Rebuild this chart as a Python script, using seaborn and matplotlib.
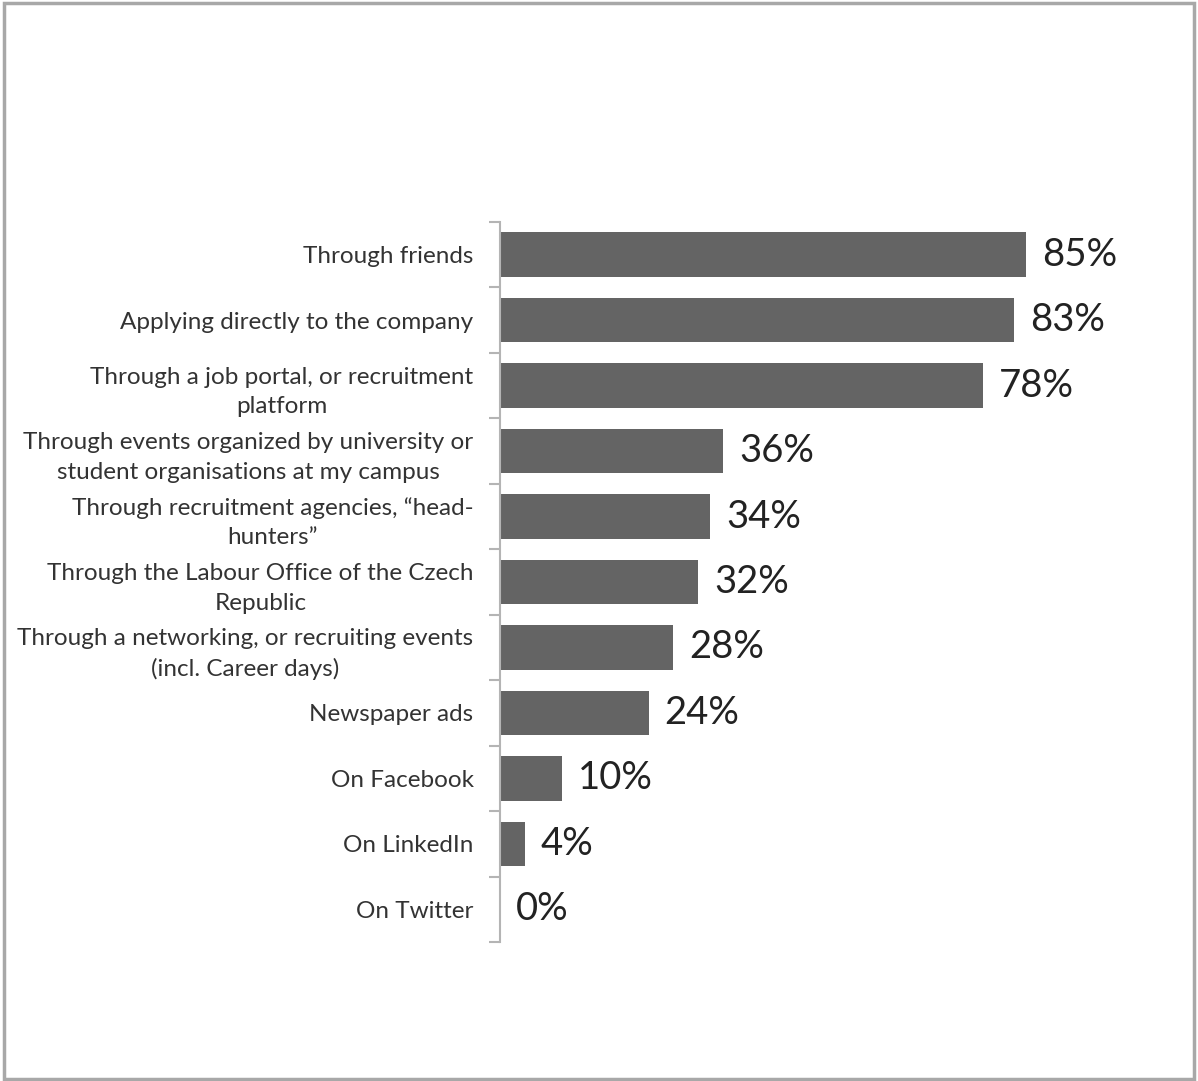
import matplotlib
matplotlib.use("Agg")
import matplotlib.pyplot as plt
import seaborn as sns
import pandas as pd
import numpy as np
from matplotlib.ticker import FixedLocator
from matplotlib.patches import Rectangle

categories = [
    "Through friends",
    "Applying directly to the company",
    "Through a job portal, or recruitment\nplatform",
    "Through events organized by university or\nstudent organisations at my campus",
    "Through recruitment agencies, \u201chead-\nhunters\u201d",
    "Through the Labour Office of the Czech\nRepublic",
    "Through a networking, or recruiting events\n(incl. Career days)",
    "Newspaper ads",
    "On Facebook",
    "On LinkedIn",
    "On Twitter",
]
values = [85, 83, 78, 36, 34, 32, 28, 24, 10, 4, 0]
value_labels = ["85%", "83%", "78%", "36%", "34%", "32%", "28%", "24%", "10%", "4%", "0%"]

df = pd.DataFrame({"category": categories, "value": values})

sns.set_theme(style="white")
plt.rcParams["font.family"] = ["Lato", "DejaVu Sans"]

fig = plt.figure(figsize=(11.98, 10.81), dpi=100)
ax = fig.add_axes([500 / 1198, 1 - 942 / 1081, 619 / 1198, 720 / 1081])

sns.barplot(data=df, x="value", y="category", orient="h", color="#646464",
            saturation=1, width=0.68, ax=ax, edgecolor="none")

ax.set_xlim(0, 100)
ax.set_ylim(len(categories) - 0.5, -0.5)
ax.set_xlabel("")
ax.set_ylabel("")
ax.set_xticks([])

for s in ["top", "right", "bottom"]:
    ax.spines[s].set_visible(False)
ax.spines["left"].set_color("#b4b4b4")
ax.spines["left"].set_linewidth(1.5)

ax.tick_params(axis="y", which="major", length=0, pad=19, labelsize=17.5, labelcolor="#333333")
ax.yaxis.set_minor_locator(FixedLocator(np.arange(-0.5, len(categories), 1.0)))
ax.tick_params(axis="y", which="minor", length=8, width=1.5, color="#b4b4b4", left=True)
for lab in ax.get_yticklabels():
    lab.set_multialignment("center")
    lab.set_linespacing(1.5)

for i, (v, t) in enumerate(zip(values, value_labels)):
    ax.text(v + 2.6, i, t, va="center", ha="left", fontsize=27.5, color="#222222")

fig.patches.append(Rectangle((0.003, 0.002), 0.994, 0.995, transform=fig.transFigure,
                             fill=False, edgecolor="#a8a8a8", linewidth=2.5))

fig.savefig("out.png", dpi=100)
